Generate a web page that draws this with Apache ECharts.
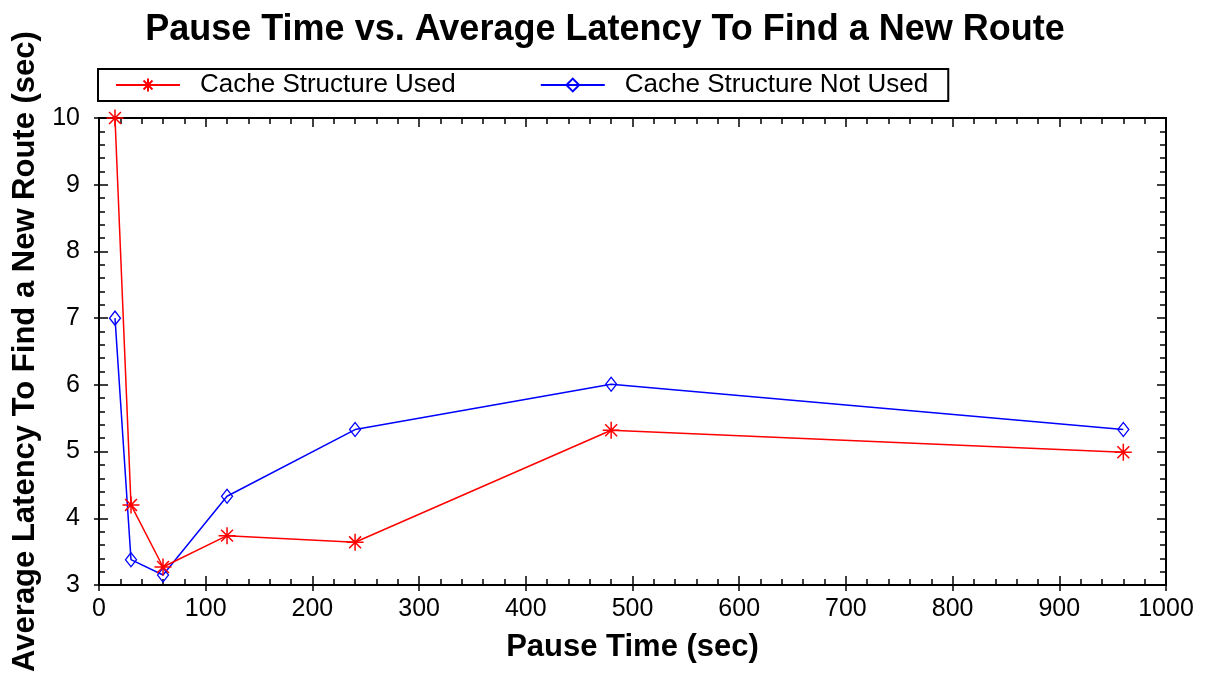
<!DOCTYPE html>
<html>
<head>
<meta charset="utf-8">
<script src="https://cdn.jsdelivr.net/npm/echarts@6/dist/echarts.min.js"></script>
<style>html,body{margin:0;padding:0;background:#fff;}#c{width:1212px;height:673px;}</style>
</head>
<body>
<div id="c"></div>
<script>
const titleText = 'Pause Time vs. Average Latency To Find a New Route';
const xName = 'Pause Time (sec)';
const yName = 'Average Latency To Find a New Route (sec)';
const seriesNames = ['Cache Structure Used', 'Cache Structure Not Used'];
const pauseTimes = [15, 30, 60, 120, 240, 480, 960];
const cacheUsed = [10.0, 4.2, 3.27, 3.74, 3.64, 5.32, 4.99];
const cacheNotUsed = [7.0, 3.38, 3.15, 4.33, 5.33, 6.01, 5.33];

const FONT = "'Liberation Sans', Arial, sans-serif";
const chart = echarts.init(document.getElementById('c'));
const asterisk = 'path://M0,-10L0,10M-10,0L10,0M-7,-7L7,7M-7,7L7,-7';
const diamond = 'path://M0,-10L7,0L0,10L-7,0Z';

function pairs(xs, ys) { return xs.map((x, i) => [x, ys[i]]); }

const xBase = {min: 0, max: 1000, interval: 100, splitLine: {show: false}};
const yBase = {min: 3, max: 10, interval: 1, splitLine: {show: false}};
const axisLine = {show: true, onZero: false, lineStyle: {color: '#000', width: 2}};

chart.setOption({
  backgroundColor: '#fff',
  animation: false,
  title: {
    text: titleText, left: 600, textAlign: 'center', top: 7,
    textStyle: {fontFamily: FONT, fontSize: 36, fontWeight: 'bold', color: '#000'}
  },
  legend: {
    left: 98, top: 69,
    orient: 'horizontal',
    borderColor: '#000', borderWidth: 2,
    padding: [3, 20, 3, 17],
    itemWidth: 64, itemHeight: 16, itemGap: 84,
    textStyle: {fontFamily: FONT, fontSize: 26, color: '#000', padding: [0, 0, 0, 15]},
    data: seriesNames
  },
  grid: {left: 99, right: 46, top: 118, bottom: 88, containLabel: false, outerBoundsMode: 'none',
    show: true, borderColor: '#000', borderWidth: 2, backgroundColor: '#fff'},
  xAxis: [
    Object.assign({}, xBase, {
      type: 'value', position: 'bottom',
      name: xName, nameLocation: 'middle', nameGap: 47,
      nameTextStyle: {fontFamily: FONT, fontSize: 31, fontWeight: 'bold', color: '#000'},
      axisLine: axisLine,
      axisTick: {show: true, inside: true, length: 9, lineStyle: {color: '#000', width: 1.5}},
      minorTick: {show: true, splitNumber: 5, length: 6, lineStyle: {color: '#000', width: 1.5}},
      axisLabel: {fontFamily: FONT, fontSize: 25, color: '#000', margin: 12, formatter: v => String(v)}
    }),
    Object.assign({}, xBase, {
      type: 'value', position: 'bottom',
      axisLine: {show: false},
      axisTick: {show: true, inside: false, length: 6, lineStyle: {color: '#000', width: 1.5}},
      axisLabel: {show: false}
    }),
    Object.assign({}, xBase, {
      type: 'value', position: 'top',
      axisLine: axisLine,
      axisTick: {show: true, inside: true, length: 9, lineStyle: {color: '#000', width: 1.5}},
      minorTick: {show: true, splitNumber: 5, length: 6, lineStyle: {color: '#000', width: 1.5}},
      axisLabel: {show: false}
    })
  ],
  yAxis: [
    Object.assign({}, yBase, {
      type: 'value', position: 'left',
      name: yName, nameLocation: 'middle', nameGap: 55, nameRotate: 90,
      nameTextStyle: {fontFamily: FONT, fontSize: 31, fontWeight: 'bold', color: '#000'},
      axisLine: axisLine,
      axisTick: {show: true, inside: true, length: 9, lineStyle: {color: '#000', width: 1.5}},
      minorTick: {show: true, splitNumber: 5, length: 6, lineStyle: {color: '#000', width: 1.5}},
      axisLabel: {fontFamily: FONT, fontSize: 25, color: '#000', margin: 19}
    }),
    Object.assign({}, yBase, {
      type: 'value', position: 'left',
      axisLine: {show: false},
      axisTick: {show: true, inside: false, length: 5, lineStyle: {color: '#000', width: 1.5}},
      minorTick: {show: false},
      axisLabel: {show: false}
    }),
    Object.assign({}, yBase, {
      type: 'value', position: 'right',
      axisLine: axisLine,
      axisTick: {show: true, inside: true, length: 9, lineStyle: {color: '#000', width: 1.5}},
      minorTick: {show: true, splitNumber: 5, length: 6, lineStyle: {color: '#000', width: 1.5}},
      axisLabel: {show: false}
    })
  ],
  series: [
    {
      name: seriesNames[0], type: 'line', xAxisIndex: 0, yAxisIndex: 0,
      data: pairs(pauseTimes, cacheUsed),
      symbol: asterisk, symbolSize: 17,
      lineStyle: {color: '#ff0000', width: 1.5},
      itemStyle: {color: '#ff0000', borderColor: '#ff0000', borderWidth: 1.5},
      z: 3
    },
    {
      name: seriesNames[1], type: 'line', xAxisIndex: 0, yAxisIndex: 0,
      data: pairs(pauseTimes, cacheNotUsed),
      symbol: diamond, symbolSize: [11, 14],
      lineStyle: {color: '#0000ff', width: 1.5},
      itemStyle: {color: 'rgba(255,255,255,0)', borderColor: '#0000ff', borderWidth: 1.3},
      z: 2
    }
  ]
});
</script>
</body>
</html>
